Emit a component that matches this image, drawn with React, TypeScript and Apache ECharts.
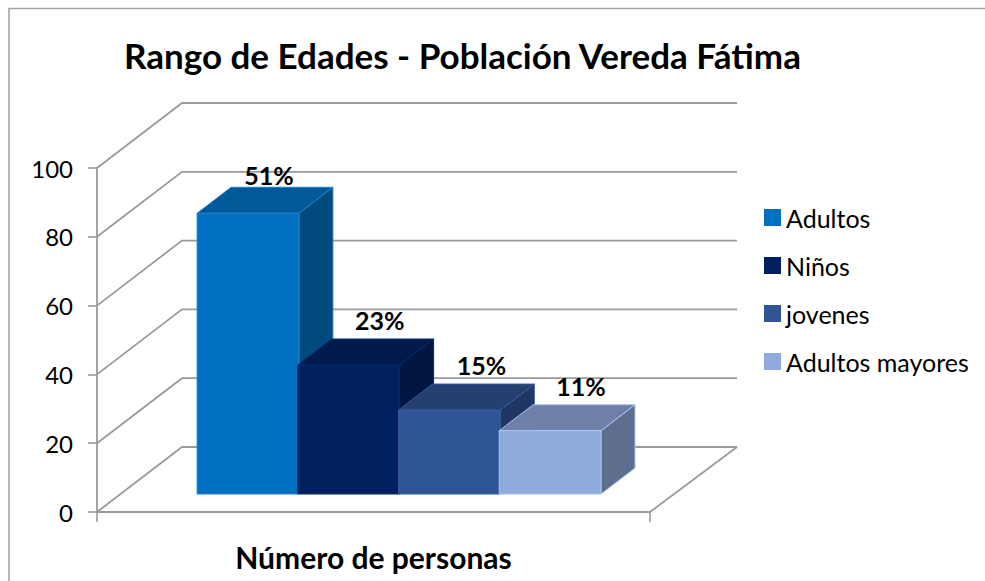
import React, { useEffect, useRef } from "react";
import * as echarts from "echarts";

const titleText = "Rango de Edades - Población Vereda Fátima";
const axisCategory = ["Número de personas"];
const seriesNames = ["Adultos", "Niños", "jovenes", "Adultos mayores"];
const seriesValues = [81.6, 37.5, 24.4, 18.4];
const percentLabels = ["51%", "23%", "15%", "11%"];
const yTicks = [0, 20, 40, 60, 80, 100];

const frontColors = ["#0070c0", "#002060", "#2f5597", "#8faadc"];
const topColors = ["#005a9a", "#001a4d", "#253f70", "#6e80a8"];
const sideColors = ["#004a7e", "#00153f", "#1f3562", "#5e6e8f"];
const edgeColors = ["#1c80cc", "#002a70", "#31599e", "#a9c4f2"];

const FONT = "Lato, Carlito, 'Open Sans', sans-serif";
const GRID = { left: 97, top: 168, width: 553, height: 344 };
const WALL_DX = 85;
const WALL_RIGHT_DX = 87;
const WALL_DY = -65;
const BAR_LIFT = 18;
const BAR_SHIFT = 25;
const BAR_STEP = 100.7;
const BAR_WIDTH = 101.8;
const BAR_DX = 34;
const BAR_DY = -26;
const LABEL_OFFSET = [[21, -38], [31, -45], [32, -45], [31, -45]];
const WALL_COLOR = "#9a9a9a";

function renderWall(_params: any, api: any) {
  const tick = api.value(0);
  const [, y] = api.coord([0, tick]);
  const left = GRID.left;
  const right = GRID.left + GRID.width;
  const children: any[] = [
    {
      type: "polyline",
      shape: { points: [[left, y], [left + WALL_DX, y + WALL_DY], [right + WALL_RIGHT_DX, y + WALL_DY]] },
      style: { stroke: WALL_COLOR, lineWidth: 1.8, fill: "none" },
    },
  ];
  if (tick === 0) {
    children.push({
      type: "line",
      shape: { x1: right, y1: y, x2: right + WALL_RIGHT_DX, y2: y + WALL_DY },
      style: { stroke: WALL_COLOR, lineWidth: 1.8 },
    });
  }
  return { type: "group", children };
}

function makeBarRenderer(i: number) {
  return (_params: any, api: any) => {
    const [cx, yBase] = api.coord([0, 0]);
    const [, yTop] = api.coord([0, api.value(1)]);
    const x0 = cx + BAR_SHIFT + (i - 2) * BAR_STEP;
    const x1 = x0 + BAR_WIDTH;
    const bottom = yBase - BAR_LIFT;
    const top = yTop - BAR_LIFT;
    const stroke = { stroke: edgeColors[i], lineWidth: 1 };
    return {
      type: "group",
      children: [
        {
          type: "polygon",
          shape: { points: [[x1, top], [x1 + BAR_DX, top + BAR_DY], [x1 + BAR_DX, bottom + BAR_DY], [x1, bottom]] },
          style: { fill: sideColors[i], ...stroke },
        },
        {
          type: "polygon",
          shape: { points: [[x0, top], [x0 + BAR_DX, top + BAR_DY], [x1 + BAR_DX, top + BAR_DY], [x1, top]] },
          style: { fill: topColors[i], ...stroke },
        },
        {
          type: "polygon",
          shape: { points: [[x0, top], [x1, top], [x1, bottom], [x0, bottom]] },
          style: { fill: frontColors[i], ...stroke },
        },
        {
          type: "text",
          z2: 100,
          style: {
            text: percentLabels[i],
            x: (x0 + x1) / 2 + LABEL_OFFSET[i][0],
            y: top + LABEL_OFFSET[i][1],
            align: "center",
            verticalAlign: "middle",
            fill: "#000",
            font: `bold 25px ${FONT}`,
          },
        },
      ],
    };
  };
}

export default function App() {
  const ref = useRef<HTMLDivElement>(null);
  useEffect(() => {
    const chart = echarts.init(ref.current!, undefined, { renderer: "svg" });
    chart.setOption({
      animation: false,
      backgroundColor: "#fff",
      title: {
        text: titleText,
        left: 119,
        top: 32,
        textStyle: { fontFamily: FONT, fontWeight: "bold", fontSize: 35, color: "#000" },
      },
      legend: {
        data: seriesNames,
        orient: "vertical",
        left: 759,
        top: 200,
        icon: "rect",
        itemWidth: 17,
        itemHeight: 17,
        itemGap: 23,
        selectedMode: false,
        textStyle: { fontFamily: FONT, fontSize: 25, color: "#000" },
      },
      grid: { ...GRID },
      xAxis: {
        type: "category",
        data: axisCategory,
        axisLine: { lineStyle: { color: WALL_COLOR, width: 1.8 } },
        axisTick: { show: true, length: 10, lineStyle: { color: WALL_COLOR, width: 1.6 } },
        axisLabel: { margin: 30, color: "#000", fontFamily: FONT, fontWeight: "bold", fontSize: 30 },
      },
      yAxis: {
        type: "value",
        min: 0,
        max: 100,
        interval: 20,
        splitLine: { show: false },
        axisLine: { show: true, lineStyle: { color: WALL_COLOR, width: 1.8 } },
        axisTick: { show: true, length: 9, lineStyle: { color: WALL_COLOR, width: 1.6 } },
        axisLabel: { margin: 24, color: "#000", fontFamily: FONT, fontSize: 24 },
      },
      graphic: [
        {
          type: "polyline",
          silent: true,
          shape: { points: [[9, 581], [9, 8.5], [985, 8.5]] },
          style: { stroke: "#a6a6a6", lineWidth: 1.6, fill: "none" },
        },
      ],
      series: [
        {
          type: "custom",
          name: "wall",
          silent: true,
          renderItem: renderWall,
          data: yTicks.map((t) => [t]),
          encode: { y: 0 },
          z: 1,
        },
        ...seriesNames.map((name, i) => ({
          type: "custom",
          name,
          silent: true,
          renderItem: makeBarRenderer(i),
          itemStyle: { color: frontColors[i] },
          data: [[0, seriesValues[i]]],
          encode: { x: 0, y: 1 },
          z: 2 + i,
        })),
      ],
    });
    return () => chart.dispose();
  }, []);
  return <div ref={ref} style={{ position: "absolute", left: 0, top: 0, width: 985, height: 581 }} />;
}
